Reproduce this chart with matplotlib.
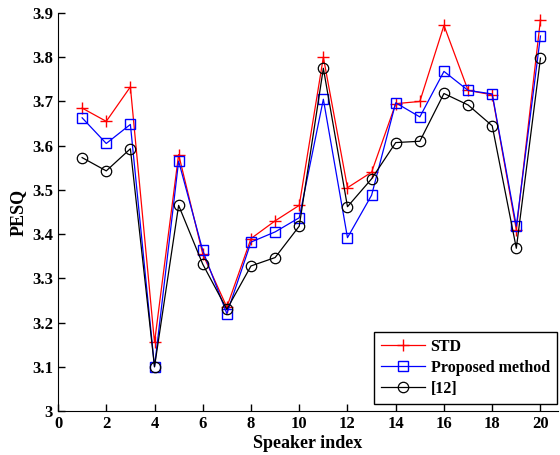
import numpy as np
import matplotlib
matplotlib.use('Agg')
import matplotlib.pyplot as plt

# PESQ per speaker
speakers = np.arange(1, 21)
std = [3.685, 3.655, 3.733, 3.155, 3.580, 3.355, 3.235, 3.390, 3.430, 3.465,
       3.800, 3.505, 3.540, 3.695, 3.700, 3.872, 3.725, 3.715, 3.410, 3.885]
proposed = [3.663, 3.605, 3.648, 3.100, 3.565, 3.363, 3.220, 3.382, 3.405, 3.437,
            3.705, 3.392, 3.488, 3.697, 3.665, 3.768, 3.725, 3.717, 3.418, 3.848]
ref12 = [3.573, 3.543, 3.593, 3.100, 3.465, 3.332, 3.230, 3.328, 3.347, 3.418,
         3.775, 3.462, 3.525, 3.607, 3.610, 3.718, 3.692, 3.645, 3.368, 3.798]

plt.rcParams['font.family'] = ['Liberation Serif', 'DejaVu Serif']
plt.rcParams['font.weight'] = 'bold'

fig = plt.figure(figsize=(5.6, 4.55), dpi=100)
ax = fig.add_axes([0.1036, 0.0967, 0.8925, 0.8747])

ax.plot(speakers, std, 'r-', marker='+', ms=8, mew=1, lw=0.9, label='STD')
ax.plot(speakers, proposed, 'b-', marker='s', ms=7.5, mfc='none', mew=1, lw=0.9, label='Proposed method')
ax.plot(speakers, ref12, 'k-', marker='o', ms=7.5, mfc='none', mew=0.9, lw=0.9, label='[12]')

ax.set_xlim(0, 20.72)
ax.set_ylim(3, 3.9)
ax.set_xticks(range(0, 21, 2))
ax.set_yticks(np.arange(3, 3.91, 0.1))
ax.set_yticklabels(['3', '3.1', '3.2', '3.3', '3.4', '3.5', '3.6', '3.7', '3.8', '3.9'])
ax.tick_params(direction='in', length=5, labelsize=12, width=1)
for lab in ax.get_xticklabels() + ax.get_yticklabels():
    lab.set_fontweight('bold')
ax.spines['top'].set_visible(False)
ax.spines['right'].set_visible(False)
ax.set_xlabel('Speaker index', fontsize=13, fontweight='bold', labelpad=2)
ax.set_ylabel('PESQ', fontsize=13, fontweight='bold', labelpad=4)

leg = ax.legend(loc='lower right', bbox_to_anchor=(0.998, 0.018), borderaxespad=0,
                fontsize=11.5, fancybox=False, framealpha=1, edgecolor='k',
                handlelength=2.75, handletextpad=0.35, borderpad=0.45,
                labelspacing=0.3)
leg.get_frame().set_linewidth(1)
for t in leg.get_texts():
    t.set_fontweight('bold')

fig.savefig('out.png', dpi=100)
